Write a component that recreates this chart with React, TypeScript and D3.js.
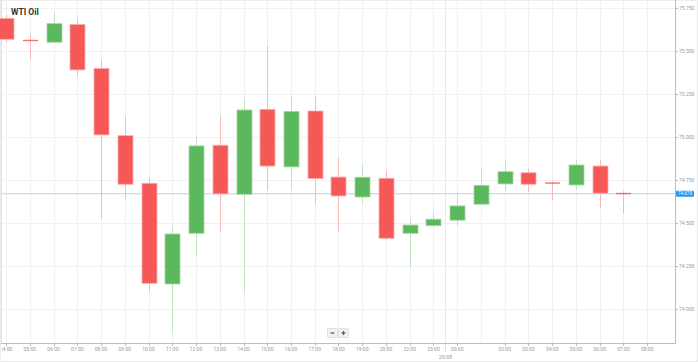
import React from 'react';
import * as d3 from 'd3';

// hourly slots (01:00 has a candle but no label, 08:00 is empty)
const slotLabels = ['04:00', '05:00', '06:00', '07:00', '08:00', '09:00', '10:00', '11:00', '12:00', '13:00', '14:00', '15:00', '16:00', '17:00', '18:00', '19:00', '20:00', '22:00', '23:00', '00:00', '', '02:00', '03:00', '04:00', '05:00', '06:00', '07:00', '08:00'];

const opens = [75.69, 75.561, 75.551, 75.655, 75.399, 75.008, 74.731, 74.145, 74.44, 74.952, 74.667, 75.161, 74.826, 75.151, 74.767, 74.651, 74.76, 74.44, 74.484, 74.516, 74.609, 74.727, 74.792, 74.732, 74.721, 74.831, 74.671];
const highs = [75.709, 75.599, 75.723, 75.69, 75.452, 75.118, 74.766, 74.484, 75.006, 75.128, 75.223, 75.529, 75.238, 75.238, 74.876, 74.837, 74.804, 74.527, 74.566, 74.676, 74.818, 74.866, 74.816, 74.746, 74.866, 74.866, 74.686];
const lows = [75.548, 75.448, 75.551, 75.355, 74.527, 74.638, 74.105, 73.874, 74.304, 74.449, 74.095, 74.688, 74.696, 74.61, 74.449, 74.618, 74.397, 74.246, 74.479, 74.484, 74.609, 74.686, 74.68, 74.634, 74.696, 74.585, 74.556];
const closes = [75.568, 75.559, 75.659, 75.39, 75.012, 74.725, 74.149, 74.436, 74.948, 74.669, 75.157, 74.831, 75.149, 74.758, 74.657, 74.766, 74.411, 74.488, 74.522, 74.599, 74.719, 74.798, 74.725, 74.73, 74.837, 74.673, 74.67];

const yTicks = [74.0, 74.25, 74.5, 74.75, 75.0, 75.25, 75.5, 75.75];
const lastPrice = 74.67;
const dayIndex = 18.5; // 29/08 separator between 23:00 and 00:00
const dayLabel = '29/08';

const RED = '#f65757';
const GREEN = '#5cb85c';

export default function App() {
  const W = 698;
  const H = 362;
  const plot = { left: 2, right: 675, top: 0, bottom: 343 };

  const x = d3.scaleLinear().domain([-0.17, 28.17]).range([plot.left, plot.right]);
  const y = d3.scaleLinear().domain([73.802, 75.7965]).range([plot.bottom, plot.top]);
  const bodyW = 15;
  const font = 'Roboto, "Open Sans", sans-serif';

  const candles = opens.map((o, i) => ({ i, o, h: highs[i], l: lows[i], c: closes[i] }));

  return (
    <svg width={W} height={H} style={{ position: 'absolute', left: 0, top: 0 }} fontFamily={font}>
      <defs>
        <clipPath id="plotClip">
          <rect x={plot.left} y={0} width={plot.right - plot.left} height={H} />
        </clipPath>
      </defs>
      <rect x={0.5} y={0.5} width={W - 1} height={H - 1} fill="#fff" stroke="#ececec" />

      {/* grid */}
      {yTicks.map(t => (
        <line key={'hy' + t} x1={plot.left} x2={plot.right} y1={Math.round(y(t)) + 0.5} y2={Math.round(y(t)) + 0.5} stroke="#f1f1f1" />
      ))}
      {slotLabels.map((s, i) => (
        <line key={'gx' + i} x1={Math.round(x(i)) + 0.5} x2={Math.round(x(i)) + 0.5} y1={plot.top} y2={plot.bottom} stroke="#f1f1f1" />
      ))}
      <line x1={Math.round(x(dayIndex)) + 0.5} x2={Math.round(x(dayIndex)) + 0.5} y1={plot.top} y2={plot.bottom} stroke="#e9e9e9" />
      <line x1={Math.round(x(dayIndex)) + 0.5} x2={Math.round(x(dayIndex)) + 0.5} y1={plot.bottom} y2={plot.bottom + 10} stroke="#cfcfcf" strokeDasharray="2,1.5" />

      {/* frame */}
      <line x1={plot.left - 0.5} x2={plot.left - 0.5} y1={plot.top} y2={plot.bottom} stroke="#e2e2e2" />
      <line x1={plot.right + 0.5} x2={plot.right + 0.5} y1={plot.top} y2={plot.bottom + 0.5} stroke="#bdbdbd" />
      <line x1={plot.left - 1} x2={plot.right + 1} y1={plot.bottom + 0.5} y2={plot.bottom + 0.5} stroke="#bdbdbd" />

      {/* last price line */}
      <line x1={plot.left} x2={plot.right} y1={y(lastPrice)} y2={y(lastPrice)} stroke="#a9d8f7" strokeWidth={1.2} />

      {/* candles */}
      {candles.map(d => {
        const up = d.c > d.o;
        const col = up ? GREEN : RED;
        const wick = up ? '#bfe3bf' : '#f8b9b9';
        const cx = Math.round(x(d.i)) + 0.5;
        const top = y(Math.max(d.o, d.c));
        const bot = y(Math.min(d.o, d.c));
        const doji = bot - top < 2;
        return (
          <g key={'c' + d.i}>
            <line x1={cx} x2={cx} y1={y(d.h)} y2={y(d.l)} stroke={wick} strokeWidth={1} />
            {doji ? (
              <line x1={cx - bodyW / 2} x2={cx + bodyW / 2} y1={top} y2={top} stroke={RED} strokeOpacity={0.85} strokeWidth={1.4} />
            ) : (
              <rect x={cx - bodyW / 2} y={top} width={bodyW} height={bot - top} fill={col} stroke={up ? '#a6d8a6' : '#fbb0b0'} strokeWidth={0.8} />
            )}
          </g>
        );
      })}

      {/* y axis */}
      {yTicks.map(t => (
        <g key={'yt' + t}>
          <line x1={plot.right} x2={plot.right + 3} y1={Math.round(y(t)) + 0.5} y2={Math.round(y(t)) + 0.5} stroke="#bdbdbd" />
          <text x={plot.right + 4} y={y(t)} dy="0.35em" fontSize={5} fill="#9a9a9a">{d3.format('.3f')(t)}</text>
        </g>
      ))}
      <rect x={plot.right + 1} y={y(lastPrice) - 3} width={18} height={6} rx={1} fill="#2196f3" />
      <text x={plot.right + 10} y={y(lastPrice)} dy="0.35em" fontSize={4.5} fill="#fff" textAnchor="middle">{d3.format('.3f')(lastPrice)}</text>

      {/* x axis */}
      <g clipPath="url(#plotClip)">
        {slotLabels.map((s, i) => s === '' ? null : (
          <g key={'xt' + i}>
            <line x1={Math.round(x(i)) + 0.5} x2={Math.round(x(i)) + 0.5} y1={plot.bottom} y2={plot.bottom + 3} stroke="#bdbdbd" />
            <text x={x(i)} y={plot.bottom + 6} dy="0.35em" fontSize={5} fill="#9a9a9a" textAnchor="middle">{s}</text>
          </g>
        ))}
      </g>
      <text x={x(dayIndex)} y={plot.bottom + 14} dy="0.35em" fontSize={5} fill="#9a9a9a" textAnchor="middle">{dayLabel}</text>

      {/* zoom buttons */}
      <g>
        <rect x={327.5} y={328.5} width={10} height={9} fill="#f2f2f2" stroke="#e0e0e0" rx={1} />
        <rect x={338.5} y={328.5} width={10} height={9} fill="#f2f2f2" stroke="#e0e0e0" rx={1} />
        <line x1={330.5} x2={334.5} y1={333} y2={333} stroke="#555" strokeWidth={1.2} />
        <line x1={341.5} x2={345.5} y1={333} y2={333} stroke="#555" strokeWidth={1.2} />
        <line x1={343.5} x2={343.5} y1={331} y2={335} stroke="#555" strokeWidth={1.2} />
      </g>

      {/* title */}
      <text x={11} y={12} dy="0.35em" fontSize={8.5} fontWeight={700} fill="#333">WTI Oil</text>
    </svg>
  );
}
